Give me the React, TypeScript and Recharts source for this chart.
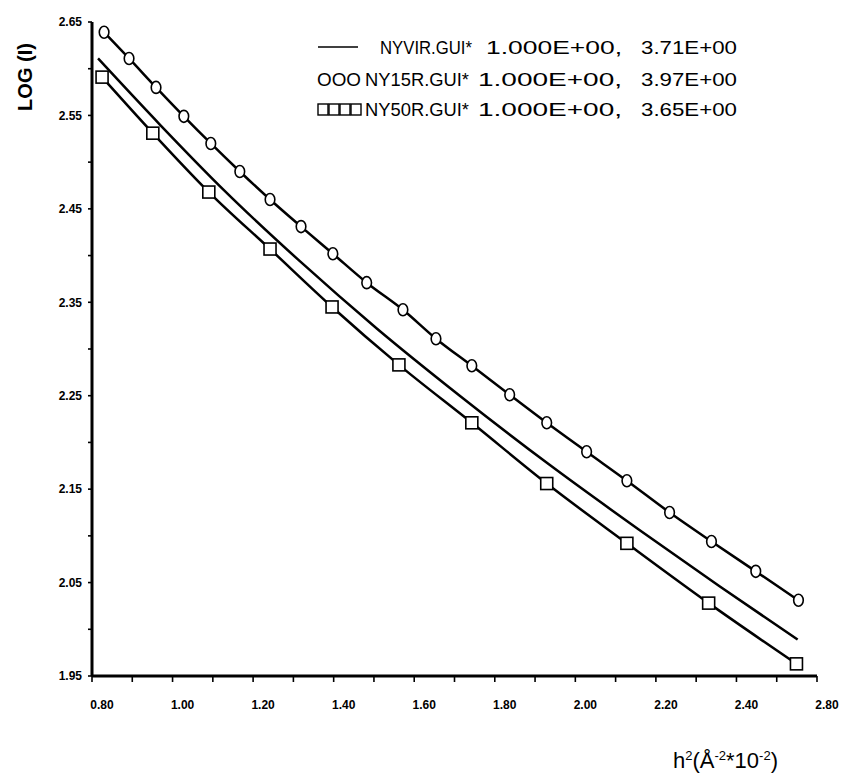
import React from 'react';
import { LineChart, Line, XAxis, YAxis, Legend, Label } from 'recharts';

// NY15R (circles)
const circleX = [0.83, 0.892, 0.959, 1.028, 1.095, 1.167, 1.242, 1.319, 1.398, 1.482, 1.572, 1.654, 1.743, 1.837, 1.929, 2.028, 2.128, 2.234, 2.338, 2.448, 2.554];
const circleY = [2.639, 2.611, 2.58, 2.549, 2.52, 2.49, 2.46, 2.431, 2.402, 2.371, 2.342, 2.311, 2.282, 2.251, 2.221, 2.19, 2.159, 2.125, 2.094, 2.062, 2.031];

// NY50R (squares)
const squareX = [0.825, 0.951, 1.09, 1.242, 1.396, 1.562, 1.743, 1.929, 2.128, 2.331, 2.549];
const squareY = [2.591, 2.531, 2.468, 2.407, 2.345, 2.283, 2.221, 2.156, 2.092, 2.028, 1.963];

// NYVIR (plain line)
const plainX = [0.815, 0.969, 1.13, 1.316, 1.507, 1.713, 1.936, 2.16, 2.358, 2.552];
const plainY = [2.611, 2.54, 2.469, 2.394, 2.322, 2.25, 2.176, 2.106, 2.046, 1.989];

const xTicks = [0.8, 0.9, 1.0, 1.1, 1.2, 1.3, 1.4, 1.5, 1.6, 1.7, 1.8, 1.9, 2.0, 2.1, 2.2, 2.3, 2.4, 2.5, 2.6];
const xTickLabels = ['0.80', '', '1.00', '', '1.20', '', '1.40', '', '1.60', '', '1.80', '', '2.00', '', '2.20', '', '2.40', '', '2.80'];
const yTicks = [1.95, 2.0, 2.05, 2.1, 2.15, 2.2, 2.25, 2.3, 2.35, 2.4, 2.45, 2.5, 2.55, 2.6, 2.65];
const yTickLabels = ['1.95', '', '2.05', '', '2.15', '', '2.25', '', '2.35', '', '2.45', '', '2.55', '', '2.65'];

const seriesNames = ['NYVIR.GUI*', 'NY15R.GUI*', 'NY50R.GUI*'];
const seriesParamA = ['1.000E+00,', '1.000E+00,', '1.000E+00,'];
const seriesParamB = ['3.71E+00', '3.97E+00', '3.65E+00'];

const toPoints = (xs: number[], ys: number[]) => xs.map((x, i) => ({ x, y: ys[i] }));
const circleData = toPoints(circleX, circleY);
const squareData = toPoints(squareX, squareY);
const plainData = toPoints(plainX, plainY);

const FONT = '"Liberation Sans", Arial, sans-serif';
const tickStyle = { fill: '#000', fontSize: 12, fontFamily: FONT, fontWeight: 700 };

const CircleDot = (props: any) => {
  const { cx, cy, index } = props;
  return <ellipse key={`c${index}`} cx={cx} cy={cy} rx={4.8} ry={6} fill="#fff" stroke="#000" strokeWidth={1.6} />;
};

const SquareDot = (props: any) => {
  const { cx, cy, index } = props;
  return <rect key={`s${index}`} x={cx - 6} y={cy - 6} width={12} height={12} fill="#fff" stroke="#000" strokeWidth={1.6} />;
};

// legend drawn in its own little svg, origin at page (308, 30)
const LegendBox = () => {
  const rows = [24, 56, 86];
  const txt = { fontFamily: FONT, fontSize: 18, fill: '#000' };
  return (
    <svg width={440} height={100}>
      <line x1={10} x2={50} y1={rows[0] - 7} y2={rows[0] - 7} stroke="#000" strokeWidth={1.5} />
      <text x={9} y={rows[1]} {...txt} textLength={44} lengthAdjust="spacingAndGlyphs">OOO</text>
      {[0, 1, 2, 3].map((k) => (
        <rect key={k} x={10 + k * 11} y={rows[2] - 12} width={10} height={11} fill="#fff" stroke="#000" strokeWidth={1.4} />
      ))}
      {seriesNames.map((n, i) => (
        <g key={n}>
          <text x={i === 0 ? 72 : 57} y={rows[i]} {...txt} textLength={i === 0 ? 92 : 104} lengthAdjust="spacingAndGlyphs">{n}</text>
          <text x={i === 0 ? 178 : 170} y={rows[i]} {...txt} textLength={i === 0 ? 136 : 144} lengthAdjust="spacingAndGlyphs">{seriesParamA[i]}</text>
          <text x={333} y={rows[i]} {...txt} textLength={96} lengthAdjust="spacingAndGlyphs">{seriesParamB[i]}</text>
        </g>
      ))}
    </svg>
  );
};

const YTitle = () => (
  <text x={25} y={77} transform="rotate(-90, 25, 77)" textAnchor="middle" dominantBaseline="central"
    fontFamily={FONT} fontSize={20} fontWeight={700} fill="#000">
    LOG (I)
  </text>
);

const XTitle = () => (
  <text x={673} y={768} fontFamily={FONT} fontSize={22} fill="#000">
    h<tspan dy={-8} fontSize={13}>2</tspan>
    <tspan dy={8}>(Å</tspan>
    <tspan dy={-8} fontSize={13}>-2</tspan>
    <tspan dy={8}>*10</tspan>
    <tspan dy={-8} fontSize={13}>-2</tspan>
    <tspan dy={8}>)</tspan>
  </text>
);

export default function App() {
  return (
    <div style={{ position: 'relative', width: 841, height: 775, background: '#fff' }}>
      <style>{'body { margin: 0; overflow: hidden; }'}</style>
      <LineChart width={841} height={775} margin={{ top: 22, right: 24, bottom: 69, left: 32 }}>
        <XAxis
          dataKey="x"
          type="number"
          domain={[0.8, 2.6]}
          ticks={xTicks}
          interval={0}
          allowDataOverflow
          height={30}
          tickFormatter={(v: number, i: number) => xTickLabels[i]}
          tick={{ ...tickStyle, dx: 10 }}
          tickSize={6}
          tickMargin={18}
          axisLine={{ stroke: '#000', strokeWidth: 3 }}
          tickLine={{ stroke: '#000', strokeWidth: 1.6 }}
        >
          <Label content={<XTitle />} />
        </XAxis>
        <YAxis
          dataKey="y"
          type="number"
          domain={[1.95, 2.65]}
          ticks={yTicks}
          interval={0}
          allowDataOverflow
          width={60}
          tickFormatter={(v: number, i: number) => yTickLabels[i]}
          tick={tickStyle}
          tickSize={4}
          tickMargin={6}
          axisLine={{ stroke: '#000', strokeWidth: 3 }}
          tickLine={{ stroke: '#000', strokeWidth: 1.6 }}
        >
          <Label content={<YTitle />} />
        </YAxis>
        <Legend
          layout="horizontal"
          verticalAlign="middle"
          align="center"
          content={<LegendBox />}
          wrapperStyle={{ left: 308, top: 30, width: 440, height: 100 }}
        />
        <Line data={plainData} dataKey="y" name={seriesNames[0]} type="monotone" stroke="#000" strokeWidth={2.5} dot={false} isAnimationActive={false} />
        <Line data={circleData} dataKey="y" name={seriesNames[1]} type="monotone" stroke="#000" strokeWidth={2.5} dot={CircleDot} isAnimationActive={false} />
        <Line data={squareData} dataKey="y" name={seriesNames[2]} type="monotone" stroke="#000" strokeWidth={2.5} dot={SquareDot} isAnimationActive={false} />
      </LineChart>
    </div>
  );
}
